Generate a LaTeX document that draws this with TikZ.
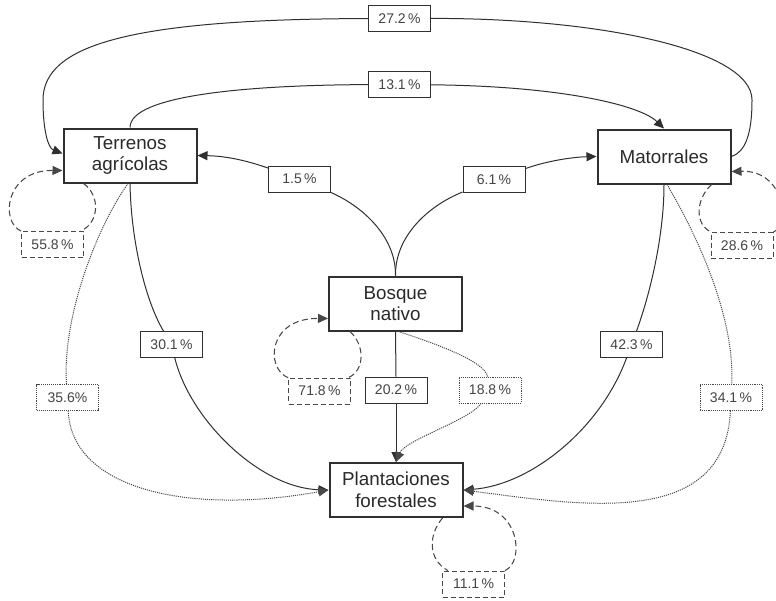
\documentclass[tikz,border=0pt]{standalone}
\usepackage{fontspec}
\setmainfont{Liberation Sans}
\usetikzlibrary{arrows.meta}
\definecolor{ln}{HTML}{303030}
\definecolor{lnl}{HTML}{484848}
\definecolor{tx}{HTML}{2A2A2A}
\definecolor{lt}{HTML}{444444}
\begin{document}
\begin{tikzpicture}[x=1pt,y=-1pt,
  state/.style={draw=ln,line width=2pt,fill=white,minimum width=133pt,minimum height=54pt,align=center,inner sep=0pt,text=tx,font=\fontsize{18.8}{21.7}\selectfont},
  lab/.style={draw=ln,line width=0.9pt,fill=white,minimum width=62pt,minimum height=26pt,inner sep=2pt,text=lt,font=\fontsize{14}{16}\selectfont},
  labdash/.style={lab,draw=lnl,dash pattern=on 5pt off 3pt},
  labdot/.style={lab,draw=lnl,line width=0.9pt,dash pattern=on 1.1pt off 1pt},
  seg/.style={draw=ln,line width=1pt},
  conn/.style={seg,-{Triangle[length=10pt,width=9pt]}},
  dsh/.style={draw=lnl,line width=1.05pt,dash pattern=on 6pt off 3.5pt},
  dtt/.style={draw=lnl,line width=1pt,dash pattern=on 1.1pt off 1pt}
]
\clip (0,0) rectangle (776,600);
\fill[white] (0,0) rectangle (776,600);

% states
\node[state] (T) at (130,155.5) {Terrenos\\agrícolas};
\node[state] (M) at (664,156.5) {Matorrales};
\node[state] (B) at (395.5,303.5) {Bosque\\nativo};
\node[state] (P) at (396,490) {Plantaciones\\forestales};

% labels
\node[lab] (l272) at (399.5,18.5) {27.2\,\%};
\node[lab] (l131) at (399.5,84.5) {13.1\,\%};
\node[lab] (l15) at (299.5,179) {1.5\,\%};
\node[lab] (l61) at (494,179.5) {6.1\,\%};
\node[labdash] (l558) at (52.5,244.5) {55.8\,\%};
\node[labdash] (l286) at (742,245.5) {28.6\,\%};
\node[labdash] (l718) at (319.5,391) {71.8\,\%};
\node[lab] (l301) at (171.5,344.5) {30.1\,\%};
\node[labdot] (l356) at (67.5,397.5) {35.6\%};
\node[lab] (l202) at (396,390) {20.2\,\%};
\node[labdot] (l188) at (490,390) {18.8\,\%};
\node[lab] (l423) at (631.5,344.5) {42.3\,\%};
\node[labdot] (l341) at (731,397.5) {34.1\,\%};
\node[labdash] (l111) at (473.5,584) {11.1\,\%};

% 27.2 : Matorrales -> Terrenos
\draw[seg] (M.east) .. controls (745,152) and (752,135) .. (752,100) .. controls (752,50) and (600,18) .. (l272);
\draw[conn] (l272) .. controls (130,19) and (43,45) .. (43,100) .. controls (43,130) and (48,148) .. ([yshift=2pt]T.west);

% 13.1 : Terrenos -> Matorrales
\draw[seg] (T.north) .. controls (130,95) and (250,85) .. (l131);
\draw[conn] (l131) .. controls (560,86) and (640,105) .. (M.north);

% 1.5 : Bosque -> Terrenos
\draw[seg] (B.north) .. controls (396,235) and (360,205) .. (l15);
\draw[conn] (l15) .. controls (245,160) and (225,156) .. (T.east);

% 6.1 : Bosque -> Matorrales
\draw[seg] (B.north) .. controls (395,235) and (430,205) .. (l61);
\draw[conn] (l61) .. controls (550,160) and (575,157) .. (M.west);

% 30.1 : Terrenos -> Plantaciones
\draw[seg] (T.south) .. controls (131,240) and (145,300) .. (l301);
\draw[conn] (l301) .. controls (190,420) and (260,488) .. (P.west);

% 35.6 : Terrenos -> Plantaciones (dotted)
\draw[seg,dtt] ([xshift=-2pt]T.south) .. controls (95,230) and (62,320) .. (l356);
\draw[conn,dtt] (l356) .. controls (72,490) and (190,515) .. (P.west);

% 20.2 : Bosque -> Plantaciones
\draw[seg] (B.south) -- (l202.north);
\draw[conn] (l202.south) -- (P.north);

% 18.8 : Bosque -> Plantaciones (dotted)
\draw[seg,dtt] ([xshift=3pt]B.south) .. controls (440,345) and (485,362) .. (l188);
\draw[conn,dtt] (l188) .. controls (470,420) and (405,440) .. (P.north);

% 42.3 : Matorrales -> Plantaciones
\draw[seg] (M.south) .. controls (664,240) and (648,300) .. (l423);
\draw[conn] (l423) .. controls (600,430) and (530,485) .. (P.east);

% 34.1 : Matorrales -> Plantaciones (dotted)
\draw[seg,dtt] ([xshift=3pt]M.south) .. controls (700,240) and (735,320) .. (l341);
\draw[conn,dtt] (l341) .. controls (725,530) and (580,505) .. (P.east);

% self loops (dashed)
\draw[seg,dsh] ([xshift=21pt]T.south west) .. controls (100,195) and (100,222) .. (l558);
\draw[conn,dsh] (l558) .. controls (0,222) and (5,170) .. ([yshift=-15pt]T.west);

\draw[seg,dsh] ([xshift=22pt]B.south west) .. controls (365,345) and (365,370) .. (l718);
\draw[conn,dsh] (l718) .. controls (265,368) and (268,318) .. ([yshift=-15pt]B.west);

\draw[seg,dsh] ([xshift=-21pt]P.south east) .. controls (428,535) and (428,560) .. (l111);
\draw[conn,dsh] (l111) .. controls (525,562) and (520,506) .. ([yshift=-16pt]P.east);

\draw[seg,dsh] ([xshift=-20pt]M.south east) .. controls (695,200) and (695,225) .. (l286);
\draw[conn,dsh] (l286) .. controls (790,225) and (785,170) .. ([yshift=-15pt]M.east);
\end{tikzpicture}
\end{document}
